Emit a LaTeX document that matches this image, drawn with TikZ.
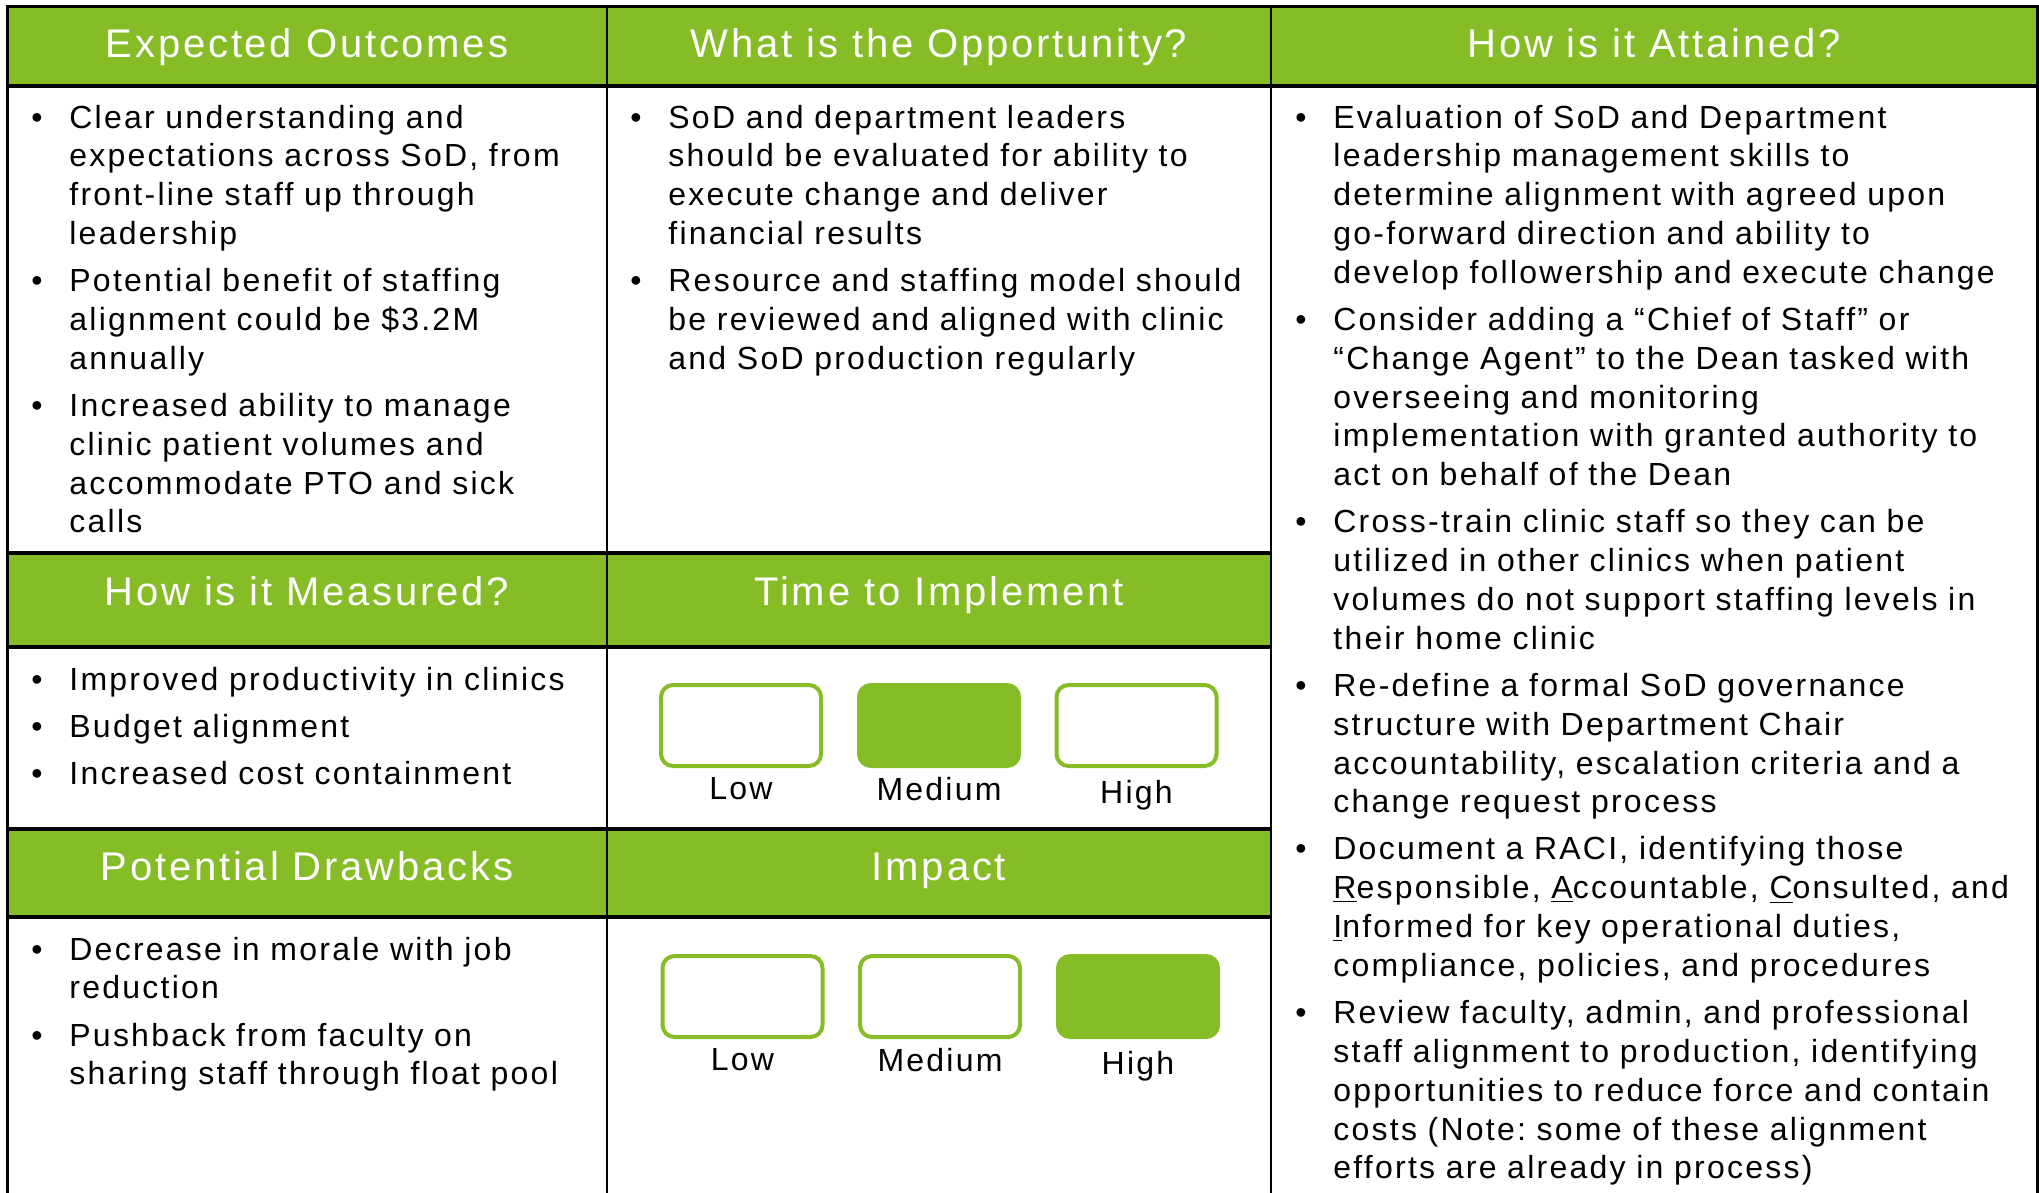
\documentclass[tikz,border=0pt]{standalone}
\usepackage{fontspec}
\setmainfont{Liberation Sans}[LetterSpace=7]
\usetikzlibrary{positioning}
\definecolor{leafgreen}{HTML}{86BC25}
\frenchspacing
\newcommand{\bitem}[1]{\hangindent=19pt\hangafter=1\rightskip=0pt plus 1fil\noindent\hbox to 19pt{\textbullet\hfil}{\let\\\newline#1}\par\vspace{4.2pt}}
\tikzset{
	hdr/.style={anchor=base,inner sep=0pt,text=white,font=\fontsize{20}{24}\selectfont},
	cell/.style={anchor=base west,inner sep=0pt,font=\fontsize{16}{19.4}\selectfont},
	lvl/.style={draw=leafgreen,line width=2pt,rounded corners=6pt,minimum width=80pt,minimum height=40.5pt,inner sep=0pt},
	lvlon/.style={lvl,fill=leafgreen},
	lvltext/.style={anchor=north,inner sep=0pt,font=\fontsize{16}{19.4}\selectfont}
}
\begin{document}
\begin{tikzpicture}[x=0.5pt,y=-0.5pt]
	\useasboundingbox (0,0) rectangle (2039,1193);
	\fill[leafgreen] (7,7) rectangle (2037,86);
	\fill[leafgreen] (7,553) rectangle (1271,647);
	\fill[leafgreen] (7,829) rectangle (1271,917);
	\draw[line width=1.5pt] (7,1193) -- (7,7) -- (2037,7) -- (2037,1193);
	\draw[line width=1.1pt] (607,7) -- (607,1193);
	\draw[line width=1.1pt] (1271,7) -- (1271,1193);
	\draw[line width=1.8pt] (7,86) -- (2037,86);
	\draw[line width=1.8pt] (7,553) -- (1271,553);
	\draw[line width=1.8pt] (7,647) -- (1271,647);
	\draw[line width=1.8pt] (7,829) -- (1271,829);
	\draw[line width=1.8pt] (7,917) -- (1271,917);
	\node[hdr] (outcomes) at (307,58) {Expected Outcomes};
	\node[hdr] (opportunity) at (939,58) {What is the Opportunity?};
	\node[hdr] (attained) at (1654,58) {How is it Attained?};
	\node[hdr] (measured) at (307,605) {How is it Measured?};
	\node[hdr] (timeimpl) at (939,605) {Time to Implement};
	\node[hdr] (drawbacks) at (307,880) {Potential Drawbacks};
	\node[hdr] (impact) at (939,880) {Impact};
	\node[cell,text width=284pt] (outcomestxt) at (31,128) {%
		\bitem{Clear understanding and\\expectations across SoD, from\\front-line staff up through\\leadership}
		\bitem{Potential benefit of staffing\\alignment could be \$3.2M\\annually}
		\bitem{Increased ability to manage\\clinic patient volumes and\\accommodate PTO and sick\\calls}};
	\node[cell,text width=316pt] (opportunitytxt) at (630,128) {%
		\bitem{SoD and department leaders\\should be evaluated for ability to\\execute change and deliver\\financial results}
		\bitem{Resource and staffing model should\\be reviewed and aligned with clinic\\and SoD production regularly}};
	\node[cell,text width=367pt] (attainedtxt) at (1295,128) {%
		\bitem{Evaluation of SoD and Department\\leadership management skills to\\determine alignment with agreed upon\\go-forward direction and ability to\\develop followership and execute change}
		\bitem{Consider adding a “Chief of Staff” or\\“Change Agent” to the Dean tasked with\\overseeing and monitoring\\implementation with granted authority to\\act on behalf of the Dean}
		\bitem{Cross-train clinic staff so they can be\\utilized in other clinics when patient\\volumes do not support staffing levels in\\their home clinic}
		\bitem{Re-define a formal SoD governance\\structure with Department Chair\\accountability, escalation criteria and a\\change request process}
		\bitem{Document a RACI, identifying those\\\underline{R}esponsible, \underline{A}ccountable, \underline{C}onsulted, and\\\underline{I}nformed for key operational duties,\\compliance, policies, and procedures}
		\bitem{Review faculty, admin, and professional\\staff alignment to production, identifying\\opportunities to reduce force and contain\\costs (Note: some of these alignment\\efforts are already in process)}};
	\node[cell,text width=284pt] (measuredtxt) at (31,690) {%
		\bitem{Improved productivity in clinics}
		\bitem{Budget alignment}
		\bitem{Increased cost containment}};
	\node[cell,text width=284pt] (drawbackstxt) at (31,960) {%
		\bitem{Decrease in morale with job\\reduction}
		\bitem{Pushback from faculty on\\sharing staff through float pool}};
	\node[lvl] (tlow) at (741,725.5) {};
	\node[lvlon] (tmed) at (939,725.5) {};
	\node[lvl] (thigh) at (1136.5,725.5) {};
	\node[lvltext,below=4.5pt of tlow] (tlowtxt) {Low};
	\node[lvltext,below=4.5pt of tmed] (tmedtxt) {Medium};
	\node[lvltext,below=6pt of thigh] (thightxt) {High};
	\node[lvl] (ilow) at (742.5,996.5) {};
	\node[lvl] (imed) at (940,996.5) {};
	\node[lvlon] (ihigh) at (1138,996.5) {};
	\node[lvltext,below=4.5pt of ilow] (ilowtxt) {Low};
	\node[lvltext,below=4.5pt of imed] (imedtxt) {Medium};
	\node[lvltext,below=6pt of ihigh] (ihightxt) {High};
\end{tikzpicture}
\end{document}
